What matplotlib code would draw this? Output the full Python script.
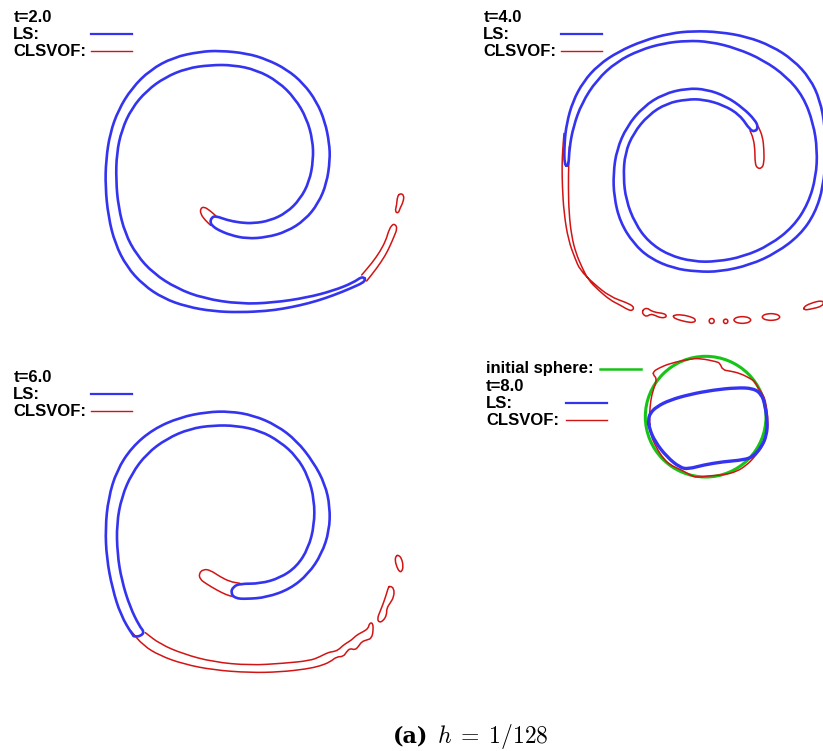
import numpy as np
import matplotlib.pyplot as plt
from matplotlib.path import Path
from matplotlib.patches import Circle, Ellipse, PathPatch

plt.rcParams['font.family'] = ['Liberation Sans', 'DejaVu Sans']
plt.rcParams['mathtext.fontset'] = 'cm'

BLUE = '#3434f0'
RED = '#d21414'
GREEN = '#16c416'

# ---- interface contours (local panel units) ----
# t = 2.0
ls_t2 = [(1100, 843), (1050, 866), (1000, 886), (950, 903), (900, 916), (850, 926), (800, 933),
         (720, 937), (640, 934), (560, 920), (490, 895), (430, 855), (380, 800), (345, 730),
         (325, 650), (316, 560), (318, 480), (330, 400), (355, 330), (395, 265), (450, 210),
         (520, 172), (600, 155), (660, 152), (740, 160), (800, 178), (860, 208), (910, 250),
         (950, 305), (975, 365), (988, 430), (990, 480), (980, 550), (955, 610), (915, 660),
         (860, 695), (800, 712), (740, 716), (690, 705), (655, 690), (640, 680), (630, 668),
         (635, 652), (648, 648), (680, 660), (720, 668), (760, 670), (810, 662), (860, 638),
         (900, 598), (928, 545), (940, 480), (938, 420), (920, 355), (885, 295), (835, 245),
         (770, 210), (700, 195), (630, 195), (560, 205), (495, 232), (440, 272), (395, 325),
         (365, 390), (350, 460), (348, 540), (355, 620), (375, 700), (410, 765), (460, 820),
         (530, 865), (610, 895), (720, 912), (820, 908), (920, 893), (1000, 872), (1060, 848),
         (1088, 828)]
vof_t2 = [
    [(648, 648), (630, 632), (612, 620), (601, 626), (602, 642), (615, 660), (632, 676)],
    [(1085, 825), (1115, 790), (1140, 755), (1158, 720), (1165, 695), (1175, 675), (1185, 672),
     (1192, 685), (1182, 710), (1170, 738), (1155, 768), (1130, 805), (1100, 843)],
]
drops_t2 = [
    [(1200, 580), (1212, 585), (1210, 605), (1200, 625), (1195, 640), (1185, 635), (1190, 615),
     (1192, 590)],
]

# t = 4.0
ls_t4 = [(463, 497), (463, 430), (470, 370), (488, 305), (520, 245), (565, 195), (625, 155),
         (700, 122), (780, 100), (850, 93), (930, 96), (1010, 110), (1085, 138), (1150, 180),
         (1200, 235), (1230, 300), (1245, 380), (1248, 460), (1240, 560), (1215, 640),
         (1170, 705), (1100, 758), (1020, 795), (930, 815), (860, 815), (790, 805), (720, 775),
         (670, 730), (630, 665), (612, 590), (610, 520), (620, 450), (650, 380), (700, 320),
         (760, 282), (830, 265), (890, 268), (950, 290), (1000, 325), (1035, 360), (1045, 382),
         (1035, 395), (1020, 390), (990, 345), (940, 315), (880, 298), (830, 298), (770, 310),
         (715, 345), (670, 400), (645, 460), (640, 530), (648, 600), (675, 670), (715, 725),
         (775, 765), (850, 785), (920, 785), (1000, 770), (1080, 735), (1150, 680), (1195, 610),
         (1218, 530), (1222, 450), (1210, 370), (1180, 290), (1130, 230), (1060, 180),
         (980, 145), (900, 125), (830, 122), (760, 130), (690, 150), (620, 185), (560, 240),
         (515, 310), (490, 380), (478, 445), (476, 497)]
vof_t4 = [
    [(1045, 380), (1058, 410), (1062, 450), (1062, 490), (1055, 505), (1042, 505), (1035, 490),
     (1035, 450), (1030, 415), (1020, 392)],
    [(462, 400), (458, 450), (456, 495), (457, 560), (462, 640), (475, 720), (495, 775),
     (510, 810), (550, 850), (600, 890), (650, 908), (672, 920), (668, 932), (655, 930),
     (630, 915), (600, 900), (565, 870), (535, 840), (515, 800), (498, 760), (485, 710),
     (477, 640), (475, 560), (476, 495), (478, 440)],
]
drops_t4 = [
    [(700, 928), (712, 924), (722, 932), (740, 938), (760, 940), (770, 946), (766, 953),
     (750, 953), (735, 946), (722, 942), (710, 950), (700, 944), (697, 936)],
    [(792, 945), (815, 944), (845, 951), (858, 959), (852, 968), (830, 966), (800, 958),
     (789, 951)],
    [(1180, 922), (1200, 910), (1240, 900), (1240, 918), (1200, 928), (1183, 930)],
]
drops_t4_xy = [(905, 963), (947, 964), (997, 960), (1083, 951)]
drops_t4_wh = [(15, 15), (13, 13), (50, 20), (52, 20)]

# t = 6.0
ls_t6 = [(398, 886), (362, 825), (337, 745), (320, 655), (316, 565), (325, 475), (350, 392),
         (395, 322), (460, 267), (540, 232), (620, 216), (690, 214), (760, 226), (830, 256),
         (890, 302), (940, 366), (975, 432), (990, 500), (988, 572), (965, 642), (925, 702),
         (870, 747), (800, 772), (740, 777), (705, 775), (692, 758), (700, 740), (720, 731),
         (780, 731), (840, 714), (890, 680), (925, 625), (943, 555), (943, 480), (925, 410),
         (890, 350), (840, 305), (780, 272), (710, 257), (640, 256), (570, 266), (500, 296),
         (440, 341), (395, 401), (365, 471), (350, 551), (352, 641), (365, 721), (390, 801),
         (418, 858), (433, 876), (422, 888), (405, 890)]
vof_t6 = [
    [(720, 730), (690, 725), (660, 710), (630, 690), (610, 688), (597, 700), (600, 718),
     (620, 732), (650, 750), (680, 765), (700, 770)],
    [(392, 872), (430, 917), (480, 947), (550, 972), (640, 990), (750, 998), (840, 996),
     (920, 987), (960, 978), (990, 966), (1010, 950), (1030, 950), (1040, 935), (1050, 925),
     (1065, 930), (1075, 920), (1085, 905), (1100, 900), (1115, 895), (1120, 870), (1118, 848),
     (1108, 850), (1105, 865), (1090, 875), (1070, 885), (1055, 900), (1030, 915), (1015, 930),
     (1000, 935), (985, 937), (960, 950), (930, 962), (850, 970), (750, 976), (640, 966),
     (550, 942), (480, 912), (436, 878)],
]
drops_t6 = [
    [(1170, 738), (1182, 745), (1182, 770), (1170, 790), (1160, 805), (1160, 825), (1150, 842),
     (1137, 848), (1132, 835), (1140, 815), (1150, 790), (1160, 760), (1165, 742)],
    [(1195, 645), (1205, 655), (1210, 680), (1205, 695), (1198, 695), (1190, 680), (1185, 660),
     (1188, 648)],
]

# t = 8.0 (back to the start)
sphere_center = (707, 230)
sphere_radius = 181
ls_t8 = [(535, 240), (540, 220), (560, 200), (600, 180), (660, 163), (730, 150), (800, 143),
         (850, 145), (875, 163), (885, 195), (892, 245), (890, 285), (875, 320), (850, 350),
         (820, 360), (760, 365), (700, 375), (655, 387), (630, 383), (590, 350), (555, 305),
         (538, 265)]
vof_t8 = [(550, 95), (565, 85), (600, 70), (660, 57), (690, 55), (740, 65), (750, 70), (758, 90),
          (780, 93), (810, 100), (840, 115), (855, 125), (865, 145), (880, 165), (888, 190),
          (895, 245), (890, 285), (880, 315), (865, 335), (850, 355), (830, 375), (800, 395),
          (760, 405), (720, 407), (680, 413), (660, 405), (635, 390), (600, 375), (580, 355),
          (560, 325), (542, 285), (538, 245), (540, 200), (545, 165), (555, 135), (560, 115),
          (550, 105)]

times = ['t=2.0', 't=4.0', 't=6.0', 't=8.0']

W, H = 823, 751
fig = plt.figure(figsize=(W / 100, H / 100), dpi=100)


def panel(x0, y0, x1, y1):
    ax = fig.add_axes([x0 / W, 1 - y1 / H, (x1 - x0) / W, (y1 - y0) / H])
    ax.set_xlim(0, 3 * (x1 - x0))
    ax.set_ylim(3 * (y1 - y0), 0)
    ax.axis('off')
    return ax


def curve(ax, pts, color, lw, closed=False):
    # the read points act as control points of a smooth quadratic path
    p = np.array(pts, dtype=float)
    if closed:
        nxt = np.roll(p, -1, axis=0)
        mids = (p + nxt) / 2
        verts = [mids[-1]]
        codes = [Path.MOVETO]
        for i in range(len(p)):
            verts += [p[i], mids[i]]
            codes += [Path.CURVE3, Path.CURVE3]
    else:
        mids = (p[:-1] + p[1:]) / 2
        verts = [p[0], mids[0]]
        codes = [Path.MOVETO, Path.LINETO]
        for i in range(1, len(p) - 1):
            verts += [p[i], mids[i]]
            codes += [Path.CURVE3, Path.CURVE3]
        verts.append(p[-1])
        codes.append(Path.LINETO)
    ax.add_patch(PathPatch(Path(verts, codes), fill=False, ec=color, lw=lw,
                           joinstyle='round', capstyle='round'))


def key(ax, x, y, title, xs):
    fs = 12
    ax.text(x, y, title, fontsize=fs, fontweight='bold', va='baseline')
    ax.text(x, y + 52, 'LS:', fontsize=fs, fontweight='bold', va='baseline')
    ax.text(x, y + 103, 'CLSVOF:', fontsize=fs, fontweight='bold', va='baseline')
    ax.plot(xs, [y + 37, y + 37], color=BLUE, lw=1.6)
    ax.plot(xs, [y + 88, y + 88], color=RED, lw=1.0)


ax1 = panel(0, 0, 420, 330)
for c in vof_t2:
    curve(ax1, c, RED, 1.1)
for c in drops_t2:
    curve(ax1, c, RED, 1.1, closed=True)
curve(ax1, ls_t2, BLUE, 1.9, closed=True)
key(ax1, 40, 65, times[0], [272, 395])

ax2 = panel(410, 0, 823, 330)
for c in vof_t4:
    curve(ax2, c, RED, 1.1)
for c in drops_t4:
    curve(ax2, c, RED, 1.1, closed=True)
for (cx, cy), (w, h) in zip(drops_t4_xy, drops_t4_wh):
    ax2.add_patch(Ellipse((cx, cy), w, h, fill=False, ec=RED, lw=1.1))
curve(ax2, ls_t4, BLUE, 1.9, closed=True)
key(ax2, 220, 65, times[1], [452, 575])

ax3 = panel(0, 340, 420, 680)
for c in vof_t6:
    curve(ax3, c, RED, 1.1)
for c in drops_t6:
    curve(ax3, c, RED, 1.1, closed=True)
curve(ax3, ls_t6, BLUE, 1.9, closed=True)
key(ax3, 40, 125, times[2], [272, 395])

ax4 = panel(470, 340, 823, 490)
ax4.add_patch(Circle(sphere_center, sphere_radius, fill=False, ec=GREEN, lw=2.2))
curve(ax4, vof_t8, RED, 1.1, closed=True)
curve(ax4, ls_t8, BLUE, 2.4, closed=True)
ax4.text(48, 100, 'initial sphere:', fontsize=12, fontweight='bold', va='baseline')
ax4.plot([390, 512], [87, 87], color=GREEN, lw=1.8)
key(ax4, 48, 152, times[3], [288, 410])

# caption
fig.text(393 / W, 1 - 743 / H, '(a)', fontsize=16, family='DejaVu Serif',
         fontweight='bold', ha='left', va='baseline')
fig.text(437 / W, 1 - 743 / H, r'$h\;=\;1/128$', fontsize=17,
         ha='left', va='baseline')

fig.savefig('out.png', dpi=100)
